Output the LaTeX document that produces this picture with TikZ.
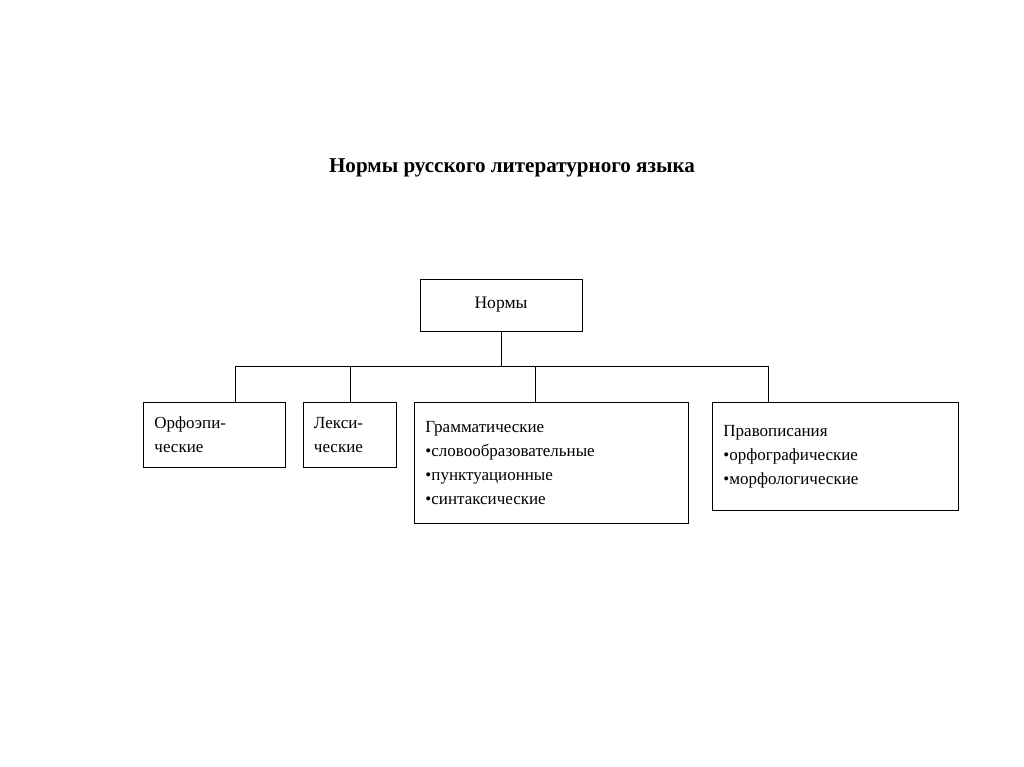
\documentclass[tikz,border=0pt]{standalone}
\usepackage{fontspec}
\setmainfont{Liberation Serif}
\usetikzlibrary{positioning, calc}

\tikzset{
  normbox/.style={draw, line width=0.8pt, anchor=north west, align=left,
    inner xsep=7pt, inner ysep=4pt, font=\fontsize{14.5pt}{20.5pt}\selectfont},
  link/.style={line width=0.8pt}
}

\begin{document}
\begin{tikzpicture}[x=0.03cm, y=-0.03cm]
        \useasboundingbox (0,0) rectangle (1024,767);

        % title
        \node[font=\bfseries\fontsize{18pt}{22pt}\selectfont] (title) at (512,168) {Нормы русского литературного языка};

        % the top box
        \node[draw, line width=0.8pt, minimum width=162*0.03cm, minimum height=52*0.03cm,
              font=\fontsize{15pt}{18pt}\selectfont] (norms) at (501,305) {Нормы};

        % the lower boxes
        \node[normbox, minimum width=142*0.03cm, minimum height=65*0.03cm, text width=120*0.03cm] (orth) at (143,402) {Орфоэпи-\\ческие};
        \node[normbox, minimum width=93*0.03cm, minimum height=65*0.03cm, text width=72*0.03cm] (lex) at (303,402) {Лекси-\\ческие};
        \node[normbox, minimum width=274*0.03cm, minimum height=121*0.03cm, text width=252*0.03cm] (gram) at (414,402) {Грамматические\\•словообразовательные\\•пунктуационные\\•синтаксические};
        \node[normbox, minimum width=246*0.03cm, minimum height=108*0.03cm, text width=224*0.03cm] (spell) at (712,402) {Правописания\\•орфографические\\•морфологические};

        % the bus
        \coordinate (bus) at (501,366);
        \draw[link] (norms.south) -- (bus);
        \draw[link] (orth.north west -| 235,0) -- (235,366) -- (768,366) -- (spell.north west -| 768,0);
        \draw[link] (lex.north west -| 350,0) -- (350,366);
        \draw[link] (gram.north west -| 535,0) -- (535,366);
    \end{tikzpicture}
\end{document}
